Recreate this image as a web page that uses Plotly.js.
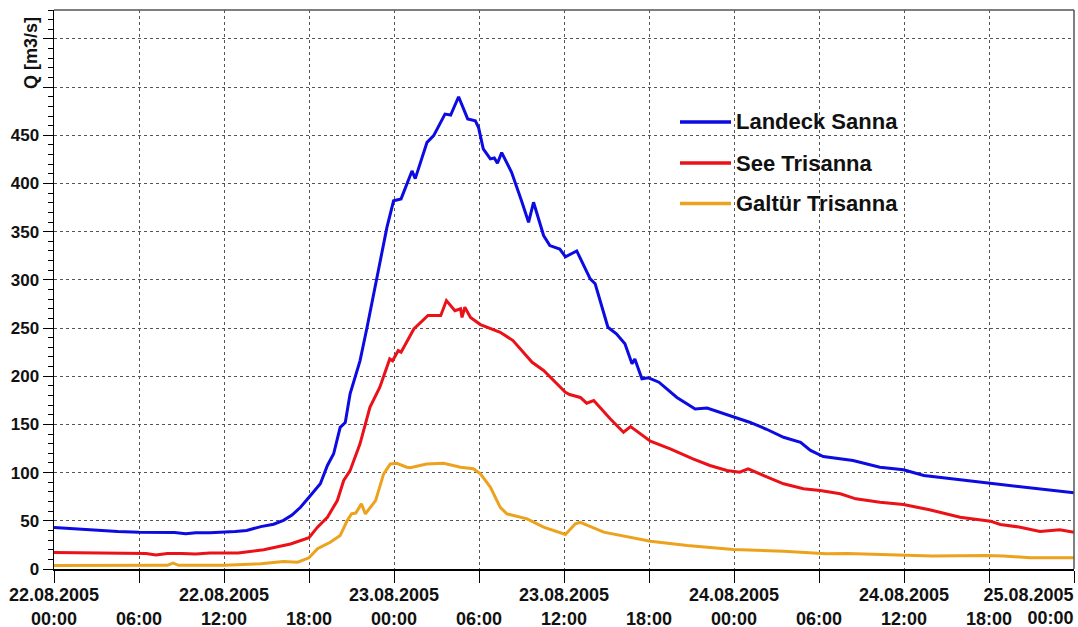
<!DOCTYPE html>
<html>
<head>
<meta charset="utf-8">
<script src="https://cdn.plot.ly/plotly-3.0.1.min.js"></script>
<style>html,body{margin:0;padding:0;background:#fff;}#chart{width:1078px;height:627px;}</style>
</head>
<body>
<div id="chart"></div>
<script>
// ---- data (hours after 22.08.2005 00:00, discharge in m3/s) ----
const seriesNames = ['Landeck Sanna', 'See Trisanna', 'Galtür Trisanna'];

const landeckHours = [0, 1.5, 3, 4.5, 6, 7.5, 8.5, 9.3, 10, 11, 12.2, 12.8, 13.6, 14.6, 15.5, 16.2, 16.8, 17.4, 18.0, 18.8, 19.3, 19.74, 20.2, 20.56, 20.9, 21.6, 22.1, 22.8, 23.5, 23.97, 24.5, 25.27, 25.5, 26.33, 26.8, 27.6, 28.0, 28.56, 29.2, 29.74, 29.97, 30.3, 30.8, 31.08, 31.3, 31.6, 32.3, 33.0, 33.5, 33.85, 34.56, 35.0, 35.7, 36.1, 36.9, 37.85, 38.2, 39.1, 39.7, 40.3, 40.8, 41.0, 41.5, 41.96, 42.7, 43.97, 45.26, 46.1, 47.0, 48.08, 49.1, 50.3, 51.5, 52.7, 53.4, 54.3, 56.4, 58.3, 59.96, 61.4, 63.7, 66.1, 69, 72];
const landeckQ = [43, 41.5, 40, 39, 38.2, 37.5, 37.8, 36.5, 37.5, 37.5, 38, 39, 40, 44, 46.5, 50.5, 56, 64, 74.5, 88.4, 107.4, 119.5, 147, 152, 181.7, 216, 250.8, 302.7, 354.5, 382, 384, 413, 405, 442.7, 449.7, 472, 471, 490, 467, 465, 458, 436, 425.5, 426.5, 421, 432, 411.6, 382, 359.7, 380.5, 346, 335.6, 332, 324, 330, 301, 296, 250.8, 244, 233.6, 212.9, 218, 197.3, 198.3, 193.8, 178, 166, 167, 162.6, 157.5, 152.3, 145, 136.7, 131.5, 123, 116.7, 112.5, 105.6, 102.9, 97, 93, 89, 84, 79];

const seeHours = [0, 2, 4, 6, 6.5, 7.2, 8, 9, 10, 11, 12, 13, 14.8, 16.7, 18.0, 18.6, 19.3, 20.0, 20.45, 20.9, 21.6, 22.3, 23.0, 23.7, 23.9, 24.3, 24.5, 25.15, 25.4, 26.4, 27.3, 27.7, 28.3, 28.7, 28.8, 29.0, 29.4, 30.1, 30.6, 31.5, 32.4, 32.7, 33.6, 33.75, 34.56, 34.8, 36.1, 36.4, 37.15, 37.6, 38.1, 39.26, 40.2, 40.7, 41.1, 42.1, 43.5, 45.1, 46.3, 47.5, 48.4, 49.0, 50.1, 51.5, 52.9, 54.08, 55.5, 56.6, 58.3, 59.96, 61.8, 63.96, 66.1, 66.8, 68.2, 69.6, 71.0, 72];
const seeQ = [17, 16.5, 16, 15.7, 16, 14.5, 16, 16, 15.5, 16.5, 16.4, 16.5, 19.9, 26, 32.4, 43.4, 53.7, 71, 91.8, 102, 129.9, 167.8, 188.6, 218, 216, 226.6, 225, 242, 249, 263, 263, 278.5, 268, 270, 261, 271.6, 261, 253.6, 250.8, 245.6, 237, 231.8, 216, 214.5, 206, 202.5, 183.4, 181, 178, 172, 174.8, 155.8, 141.9, 147.8, 143.7, 132.6, 124.7, 114.3, 107.4, 102.2, 100.4, 104, 97, 88.4, 83.2, 81.4, 78, 72.8, 69.3, 66.9, 61.4, 53.7, 49.6, 46.2, 43.4, 38.9, 40.7, 38.2];

const galtuerHours = [0, 4, 8, 8.4, 8.8, 12, 14.6, 16.2, 17.2, 18.0, 18.6, 19.5, 20.2, 20.7, 21.0, 21.3, 21.7, 21.98, 22.7, 23.27, 23.74, 24.2, 24.9, 25.15, 26.3, 27.5, 28.7, 29.6, 30.1, 30.8, 31.5, 31.97, 33.4, 34.56, 36.1, 36.8, 37.15, 38.8, 40.7, 42.1, 44.7, 47.95, 51.5, 54.5, 56, 59.96, 62, 65.8, 67, 68.9, 72];
const galtuerQ = [3.6, 3.6, 3.8, 6, 3.8, 3.8, 5.4, 7.8, 7, 11.6, 21, 27.8, 34.7, 50.3, 57.2, 58, 67.6, 57.2, 71, 98.7, 109, 109.7, 105.6, 105, 109, 109.7, 105.6, 104, 98.7, 85, 64, 57.2, 52, 43.4, 35.8, 46.9, 48.5, 38.2, 33, 28.8, 24.4, 20.2, 18.5, 15.8, 16, 14, 13.5, 14, 13.5, 11.6, 11.6];

// ---- tick labels ----
const xTickHours = [0, 6, 12, 18, 24, 30, 36, 42, 48, 54, 60, 66, 72];
const xTickDates = ['22.08.2005', '', '22.08.2005', '', '23.08.2005', '', '23.08.2005', '', '24.08.2005', '', '24.08.2005', '', '25.08.2005'];
const xTickTimes = ['00:00', '06:00', '12:00', '18:00', '00:00', '06:00', '12:00', '18:00', '00:00', '06:00', '12:00', '18:00', '00:00'];
const yTickVals = [0, 50, 100, 150, 200, 250, 300, 350, 400, 450, 500, 550];
const yTickText = ['0', '50', '100', '150', '200', '250', '300', '350', '400', '450', '', ''];
const yTitle = 'Q [m3/s]';

// ---- helpers ----
function toDate(h) {
  const d = new Date(Date.UTC(2005, 7, 22) + Math.round(h * 3600000));
  return d.toISOString().slice(0, 19).replace('T', ' ');
}

const colors = ['#0B0BE2', '#EA1218', '#EDA21E'];
const FONT = 'Liberation Sans, Arial, Helvetica, sans-serif';

const hoursList = [landeckHours, seeHours, galtuerHours];
const qList = [landeckQ, seeQ, galtuerQ];

const traces = seriesNames.map((name, i) => ({
  type: 'scatter',
  mode: 'lines',
  name: name,
  x: hoursList[i].map(toDate),
  y: qList[i],
  line: { color: colors[i], width: 3 },
  showlegend: false
}));
// invisible helper trace so the overlay axis (right-aligned last label) is drawn
traces.push({ type: 'scatter', mode: 'lines', x: [toDate(0), toDate(72)], y: [null, null], xaxis: 'x2', yaxis: 'y', showlegend: false, hoverinfo: 'skip' });

const lastIdx = xTickHours.length - 1;
const labelText = (i) => (xTickDates[i] ? xTickDates[i] : ' ') + '<br>' + xTickTimes[i];
const xTickText = xTickHours.map((h, i) => (i === lastIdx ? '' : labelText(i)));

// layout geometry (pixels)
const W = 1078, H = 627;
const M = { l: 54, r: 4, t: 10, b: 58 };
const PW = W - M.l - M.r, PH = H - M.t - M.b;
const px = (x) => (x - M.l) / PW;
const py = (y) => (H - M.b - y) / PH;

const tickFont = { family: FONT, size: 18, color: '#111', weight: 700 };
const shapes = [
  { type: 'line', xref: 'paper', yref: 'paper', x0: 0, x1: 1, y0: 1, y1: 1, line: { color: '#555', width: 1.5 } },
  { type: 'line', xref: 'paper', yref: 'paper', x0: 1, x1: 1, y0: 0, y1: 1, line: { color: '#555', width: 1.5 } }
];
const annotations = [
  {
    xref: 'paper', yref: 'paper', x: px(31), y: py(53), xanchor: 'center', yanchor: 'middle',
    text: yTitle, textangle: -90,
    showarrow: false, font: { family: FONT, size: 18, color: '#111', weight: 700 }
  }
];
// custom legend
const legendRows = [122, 163, 203.5];
seriesNames.forEach((name, i) => {
  shapes.push({
    type: 'line', xref: 'paper', yref: 'paper',
    x0: px(680), x1: px(731), y0: py(legendRows[i]), y1: py(legendRows[i]),
    line: { color: colors[i], width: 3.5 }
  });
  annotations.push({
    xref: 'paper', yref: 'paper', x: px(734), y: py(legendRows[i]), xanchor: 'left', yanchor: 'middle',
    text: name, showarrow: false, font: { family: FONT, size: 22, color: '#111', weight: 700 }
  });
});

const layout = {
  width: W, height: H,
  margin: M,
  paper_bgcolor: '#fff', plot_bgcolor: '#fff',
  showlegend: false,
  xaxis: {
    type: 'date',
    range: [toDate(0), toDate(72)],
    tickmode: 'array',
    tickvals: xTickHours.map(toDate),
    ticktext: xTickText,
    ticks: 'outside', ticklen: 12, tickcolor: '#000', tickwidth: 1,
    ticklabelstandoff: -3,
    showline: true, linecolor: '#000', linewidth: 1.5,
    showgrid: true, gridcolor: '#555', gridwidth: 1, griddash: '3px,3px',
    zeroline: false,
    tickfont: tickFont,
    fixedrange: true
  },
  xaxis2: {
    type: 'date',
    overlaying: 'x', anchor: 'y', side: 'bottom',
    range: [toDate(0), toDate(72)],
    tickmode: 'array',
    tickvals: [toDate(xTickHours[lastIdx])],
    ticktext: [labelText(lastIdx)],
    ticklabelposition: 'outside left',
    ticks: 'outside', ticklen: 12, tickcolor: 'rgba(0,0,0,0)',
    ticklabelstandoff: 9,
    showline: false, showgrid: false, zeroline: false,
    tickfont: tickFont,
    fixedrange: true
  },
  yaxis: {
    range: [0, 580],
    tickmode: 'array',
    tickvals: yTickVals,
    ticktext: yTickText,
    ticks: 'outside', ticklen: 10, tickcolor: '#000', tickwidth: 1,
    minor: { tickmode: 'linear', tick0: 0, dtick: 10, ticks: 'outside', ticklen: 5, tickcolor: '#000', showgrid: false },
    showline: true, linecolor: '#000', linewidth: 1.5,
    showgrid: true, gridcolor: '#555', gridwidth: 1, griddash: '3px,3px',
    zeroline: false,
    tickfont: { family: FONT, size: 17, color: '#111', weight: 700 },
    fixedrange: true
  },
  shapes: shapes,
  annotations: annotations
};

Plotly.newPlot('chart', traces, layout, { displayModeBar: false, staticPlot: true });
</script>
</body>
</html>
